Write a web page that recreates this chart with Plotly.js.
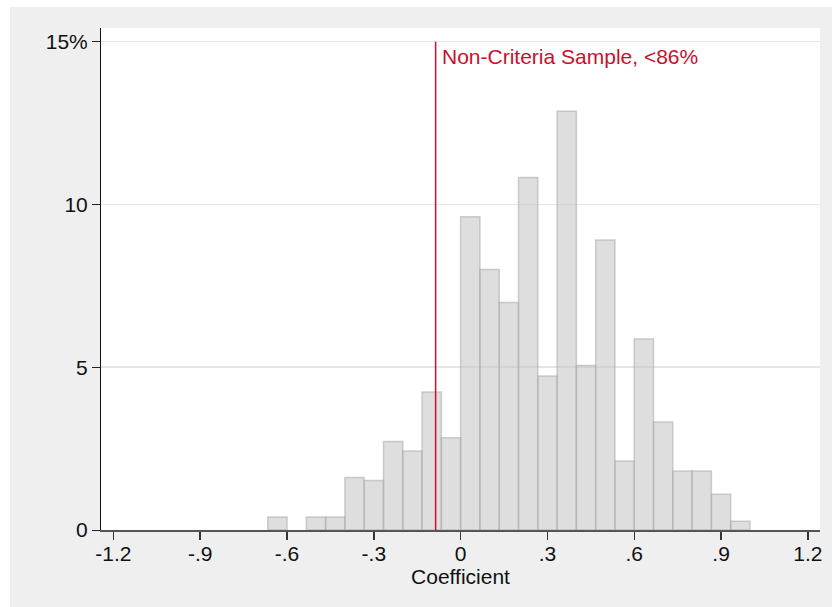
<!DOCTYPE html>
<html>
<head>
<meta charset="utf-8">
<script src="https://cdn.plot.ly/plotly-3.0.1.min.js"></script>
<style>
  html, body { margin: 0; padding: 0; background: #ffffff; }
  #chart { position: absolute; left: 10px; top: 7px; width: 822px; height: 600px; }
</style>
</head>
<body>
<div id="chart"></div>
<script>
// Histogram data (bin width 1/15)
const binWidth = 1 / 15;
const binCenters = [-0.6333, -0.5, -0.4333, -0.3667, -0.3, -0.2333, -0.1667, -0.1, -0.0333,
  0.0333, 0.1, 0.1667, 0.2333, 0.3, 0.3667, 0.4333, 0.5, 0.5667, 0.6333, 0.7, 0.7667, 0.8333, 0.9, 0.9667];
const percents = [0.4, 0.4, 0.4, 1.61, 1.52, 2.72, 2.43, 4.24, 2.83,
  9.62, 8.0, 6.99, 10.83, 4.73, 12.86, 5.05, 8.91, 2.12, 5.87, 3.32, 1.81, 1.81, 1.10, 0.27];

const xTickVals = [-1.2, -0.9, -0.6, -0.3, 0, 0.3, 0.6, 0.9, 1.2];
const xTickText = ["-1.2", "-.9", "-.6", "-.3", "0", ".3", ".6", ".9", "1.2"];
const yTickVals = [0, 5, 10, 15];
const yTickText = ["0", "5", "10", "15%"];

const thresholdX = -0.0865;
const thresholdTop = 15;
const thresholdLabel = "Non-Criteria Sample, <86%";
const xTitle = "Coefficient";

const red = "#c8102e";
const font = "Liberation Sans, Arial, sans-serif";
const fs = 21;

const trace = {
  type: "bar",
  x: binCenters,
  y: percents,
  width: binCenters.map(() => binWidth),
  marker: {
    color: "rgba(195,195,195,0.55)",
    line: { color: "rgba(170,170,170,0.55)", width: 1.5 }
  },
  hoverinfo: "x+y"
};

const layout = {
  width: 822,
  height: 600,
  margin: { l: 91, r: 12, t: 21, b: 77 },
  paper_bgcolor: "#efefef",
  plot_bgcolor: "#ffffff",
  showlegend: false,
  bargap: 0,
  font: { family: font, size: fs, color: "#111111" },
  xaxis: {
    range: [-1.243, 1.242],
    tickmode: "array",
    tickvals: xTickVals,
    ticktext: xTickText,
    ticks: "outside",
    ticklen: 8,
    tickwidth: 1.5,
    tickcolor: "#333333",
    ticklabelstandoff: -4,
    showline: true,
    linecolor: "#555555",
    linewidth: 1.5,
    showgrid: false,
    zeroline: false,
    tickfont: { family: font, size: fs, color: "#111111" },
    title: { text: xTitle, font: { family: font, size: fs, color: "#111111" }, standoff: 0 }
  },
  yaxis: {
    range: [0, 15.42],
    tickmode: "array",
    tickvals: yTickVals,
    ticktext: yTickText,
    ticks: "outside",
    ticklen: 8,
    tickwidth: 1,
    tickcolor: "#222222",
    showline: true,
    linecolor: "#111111",
    linewidth: 1,
    showgrid: true,
    gridcolor: "#e6e6e6",
    gridwidth: 1.5,
    zeroline: false,
    tickfont: { family: font, size: fs, color: "#111111" }
  },
  shapes: [{
    type: "line",
    xref: "x", yref: "y",
    x0: thresholdX, x1: thresholdX,
    y0: 0, y1: thresholdTop,
    line: { color: red, width: 1.5 }
  }],
  annotations: [{
    xref: "x", yref: "y",
    x: thresholdX, y: 14.54,
    xanchor: "left", yanchor: "middle",
    xshift: 4,
    showarrow: false,
    text: thresholdLabel,
    font: { family: font, size: fs, color: red }
  }]
};

Plotly.newPlot("chart", [trace], layout, { displayModeBar: false, staticPlot: true });
</script>
</body>
</html>
